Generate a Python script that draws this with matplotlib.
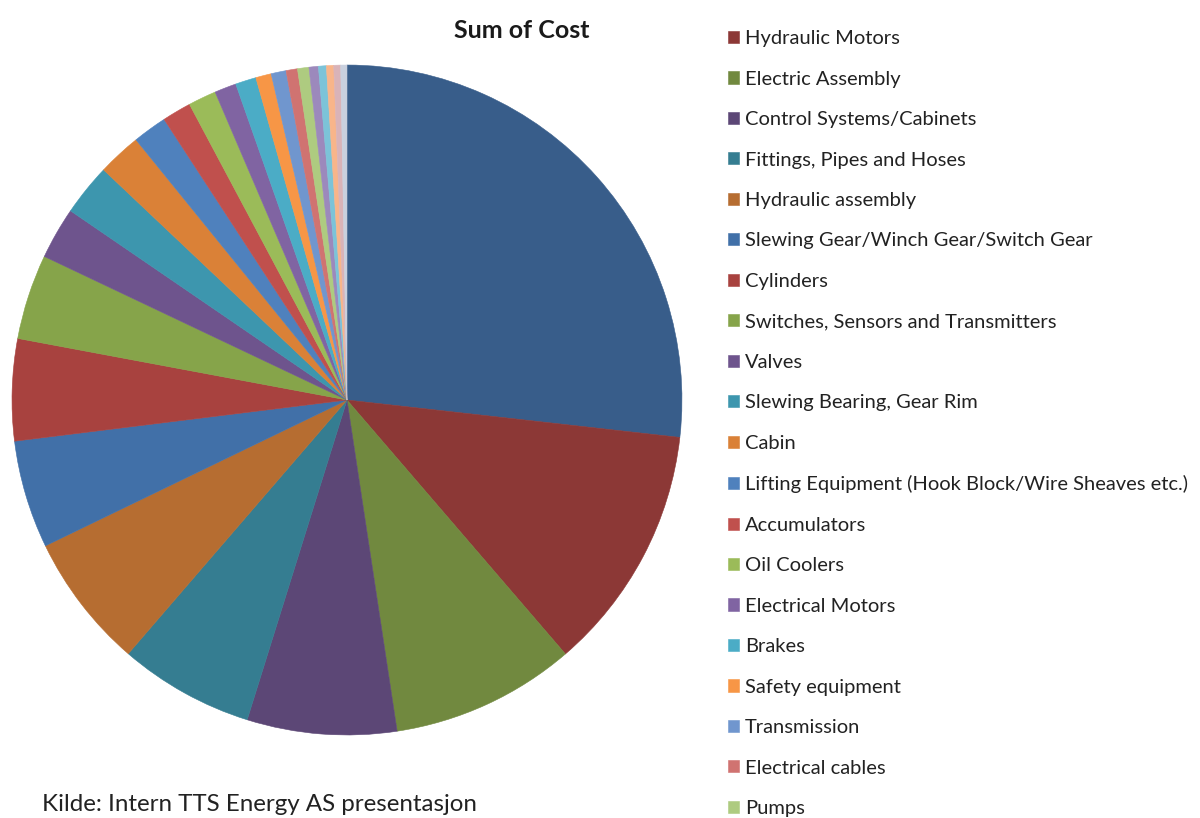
import matplotlib
matplotlib.use('Agg')
import matplotlib.pyplot as plt

# Cost share per component group (percent of total), largest first
costs = [26.75, 11.9, 8.9, 7.2, 6.5, 6.5, 5.2, 4.9, 4.1, 2.5, 2.5, 2.1,
         1.65, 1.4, 1.35, 1.05, 1.0, 0.75, 0.72, 0.55, 0.55,
         0.45, 0.38, 0.35, 0.33, 0.3]

# Legend names for slices 2..20 (the first and the smallest slices carry no entry)
legend_names = [
    'Hydraulic Motors',
    'Electric Assembly',
    'Control Systems/Cabinets',
    'Fittings, Pipes and Hoses',
    'Hydraulic assembly',
    'Slewing Gear/Winch Gear/Switch Gear',
    'Cylinders',
    'Switches, Sensors and Transmitters',
    'Valves',
    'Slewing Bearing, Gear Rim',
    'Cabin',
    'Lifting Equipment (Hook Block/Wire Sheaves etc.)',
    'Accumulators',
    'Oil Coolers',
    'Electrical Motors',
    'Brakes',
    'Safety equipment',
    'Transmission',
    'Electrical cables',
    'Pumps',
]

# Office-style palette, cycling through shades of the six accent colours
COLORS = [
    '#385D8A', '#8C3836', '#71893F', '#5C4776', '#357D91', '#B66D31',
    '#4170A8', '#A8423F', '#86A44A', '#6E548D', '#3D96AE', '#DA8137',
    '#4F81BD', '#C0504D', '#9BBB59', '#8064A2', '#4BACC6', '#F79646',
    '#7096CE', '#D07371', '#AECB80', '#9C89BC', '#7CC3D8', '#F8B58A',
    '#D9B3B8', '#C9D0DE',
]

plt.rcParams['font.family'] = ['Lato', 'DejaVu Sans']

fig = plt.figure(figsize=(12, 8.18), dpi=100)
fig.patch.set_facecolor('white')

ax = fig.add_axes([0.01, 0.1015, 0.5583, 0.819])
wedges, _ = ax.pie(costs, colors=COLORS[:len(costs)], startangle=90,
                   counterclock=False, radius=1.0,
                   wedgeprops=dict(linewidth=0.4))
# hide seams between slices by stroking each wedge in its own colour
for w in wedges:
    w.set_edgecolor(w.get_facecolor())
ax.set_xlim(-1.0, 1.0)
ax.set_ylim(-1.0, 1.0)
ax.set_aspect('equal')
ax.axis('off')

fig.text(0.435, 0.963, 'Sum of Cost', ha='center', va='center',
         fontsize=18, fontweight='bold', color='#1a1a1a')

leg = fig.legend(wedges[1:1 + len(legend_names)], legend_names,
                 loc='upper left', bbox_to_anchor=(0.6, 0.973),
                 frameon=False, fontsize=14.5, handlelength=0.55,
                 handleheight=0.55, handletextpad=0.3,
                 labelspacing=1.165, borderaxespad=0)
for t in leg.get_texts():
    t.set_color('#222222')

fig.text(0.035, 0.016, 'Kilde: Intern TTS Energy AS presentasjon',
         ha='left', va='center', fontsize=17.4, color='#222222')

fig.savefig('out.png', dpi=100, facecolor='white')
